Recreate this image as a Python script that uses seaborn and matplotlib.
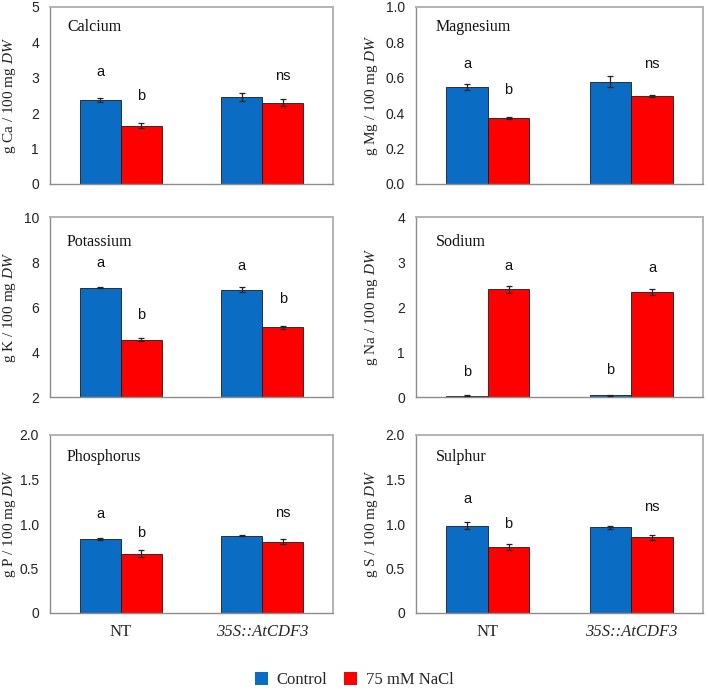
import numpy as np
import pandas as pd
import matplotlib
matplotlib.use("Agg")
import matplotlib.pyplot as plt
import seaborn as sns
from matplotlib.patches import Patch

# ---------------- data ----------------
genotypes = ["NT", "35S::AtCDF3"]
treatments = ["Control", "75 mM NaCl"]

ca_control = [2.37, 2.45]
ca_nacl = [1.65, 2.30]
ca_control_err = [0.05, 0.11]
ca_nacl_err = [0.08, 0.09]
ca_letters = ["a", "b", "", "ns"]          # NT-ctrl, NT-NaCl, 35S-ctrl, 35S-NaCl
ca_letter_y = [3.17, 2.49, 0, 3.05]
ca_ticks = [0, 1, 2, 3, 4, 5]
ca_ticklabels = ["0", "1", "2", "3", "4", "5"]

mg_control = [0.548, 0.578]
mg_nacl = [0.375, 0.499]
mg_control_err = [0.016, 0.03]
mg_nacl_err = [0.006, 0.005]
mg_letters = ["a", "b", "", "ns"]
mg_letter_y = [0.68, 0.53, 0, 0.68]
mg_ticks = [0.0, 0.2, 0.4, 0.6, 0.8, 1.0]
mg_ticklabels = ["0.0", "0.2", "0.4", "0.6", "0.8", "1.0"]

k_control = [6.86, 6.77]
k_nacl = [4.54, 5.09]
k_control_err = [0.03, 0.10]
k_nacl_err = [0.07, 0.08]
k_letters = ["a", "b", "a", "b"]
k_letter_y = [7.95, 5.64, 7.83, 6.34]
k_ticks = [2, 4, 6, 8, 10]
k_ticklabels = ["2", "4", "6", "8", "10"]

na_control = [0.03, 0.04]
na_nacl = [2.39, 2.34]
na_control_err = [0.005, 0.01]
na_nacl_err = [0.07, 0.07]
na_letters = ["b", "a", "b", "a"]
na_letter_y = [0.56, 2.91, 0.59, 2.86]
na_ticks = [0, 1, 2, 3, 4]
na_ticklabels = ["0", "1", "2", "3", "4"]

p_control = [0.828, 0.866]
p_nacl = [0.668, 0.80]
p_control_err = [0.01, 0.005]
p_nacl_err = [0.04, 0.03]
p_letters = ["a", "b", "", "ns"]
p_letter_y = [1.11, 0.90, 0, 1.12]
p_ticks = [0, 0.5, 1.0, 1.5, 2.0]
p_ticklabels = ["0", "0.5", "1.0", "1.5", "2.0"]

s_control = [0.98, 0.963]
s_nacl = [0.743, 0.851]
s_control_err = [0.04, 0.02]
s_nacl_err = [0.035, 0.03]
s_letters = ["a", "b", "", "ns"]
s_letter_y = [1.28, 1.00, 0, 1.19]
s_ticks = [0, 0.5, 1.0, 1.5, 2.0]
s_ticklabels = ["0", "0.5", "1.0", "1.5", "2.0"]

panels = [
    ("Calcium", "Ca", ca_control, ca_nacl, ca_control_err, ca_nacl_err, ca_letters, ca_letter_y, ca_ticks, ca_ticklabels),
    ("Magnesium", "Mg", mg_control, mg_nacl, mg_control_err, mg_nacl_err, mg_letters, mg_letter_y, mg_ticks, mg_ticklabels),
    ("Potassium", "K", k_control, k_nacl, k_control_err, k_nacl_err, k_letters, k_letter_y, k_ticks, k_ticklabels),
    ("Sodium", "Na", na_control, na_nacl, na_control_err, na_nacl_err, na_letters, na_letter_y, na_ticks, na_ticklabels),
    ("Phosphorus", "P", p_control, p_nacl, p_control_err, p_nacl_err, p_letters, p_letter_y, p_ticks, p_ticklabels),
    ("Sulphur", "S", s_control, s_nacl, s_control_err, s_nacl_err, s_letters, s_letter_y, s_ticks, s_ticklabels),
]

# ---------------- style ----------------
sns.set_style("white")
plt.rcParams["font.family"] = ["Liberation Sans", "DejaVu Sans"]
plt.rcParams["mathtext.fontset"] = "custom"
plt.rcParams["mathtext.rm"] = "Liberation Serif"
plt.rcParams["mathtext.it"] = "Liberation Serif:italic"

BLUE = "#0a6cc2"
RED = "#ff0000"
SERIF = ["Liberation Serif", "DejaVu Serif"]

W, H = 708, 690
fig = plt.figure(figsize=(W / 100, H / 100), dpi=100)

col_x = [(50, 333), (416, 703)]
row_y = [(7, 184), (217, 397), (435, 613)]
label_cx = [10, 372]

for i, (name, sym, ctrl, nacl, ctrl_err, nacl_err, letters, letter_y, ticks, ticklabels) in enumerate(panels):
    r, c = divmod(i, 2)
    x0, x1 = col_x[c]
    y0, y1 = row_y[r]
    ax = fig.add_axes([x0 / W, 1 - y1 / H, (x1 - x0) / W, (y1 - y0) / H])

    df = pd.DataFrame({
        "genotype": genotypes * 2,
        "treatment": [treatments[0]] * 2 + [treatments[1]] * 2,
        "value": list(ctrl) + list(nacl),
    })
    sns.barplot(data=df, x="genotype", y="value", hue="treatment",
                order=genotypes, hue_order=treatments,
                palette=[BLUE, RED], width=0.58, errorbar=None,
                edgecolor="#1a1a1a", linewidth=0.6, saturation=1,
                legend=False, ax=ax)

    errs = list(ctrl_err) + list(nacl_err)
    vals = list(ctrl) + list(nacl)
    bars = ax.patches[:4]
    xs = [b.get_x() + b.get_width() / 2 for b in bars]
    ax.errorbar(xs, vals, yerr=errs, fmt="none", ecolor="#222222",
                elinewidth=0.9, capsize=2.5, capthick=0.9, zorder=5)

    # letters: order of patches = ctrl NT, ctrl 35S, nacl NT, nacl 35S
    letter_x = [xs[0], xs[2], xs[1], xs[3]]
    for lx, lt, ly in zip(letter_x, letters, letter_y):
        if lt:
            ax.text(lx, ly, lt, ha="center", va="center", fontsize=10.5,
                    color="#111111", family=["Liberation Sans", "DejaVu Sans"])

    ax.set_xlim(-0.5, 1.5)
    ax.set_ylim(ticks[0], ticks[-1])
    ax.set_yticks(ticks)
    ax.set_yticklabels(ticklabels)
    ax.set_xticks([-0.5, 0.5, 1.5])
    ax.set_xticklabels([])
    ax.set_xticks([0, 1], minor=True)
    if r == 2:
        ax.set_xticklabels(["NT", "35S::AtCDF3"], minor=True)
        labs = ax.get_xticklabels(minor=True)
        for lab in labs:
            lab.set_family(SERIF)
            lab.set_fontsize(12)
        labs[1].set_style("italic")
    else:
        ax.set_xticklabels([], minor=True)
    ax.tick_params(axis="x", which="minor", length=0, pad=8)
    ax.tick_params(axis="x", which="major", length=4, width=0.8, color="#555555", direction="out")
    ax.tick_params(axis="y", length=4, width=0.8, color="#777777", direction="out",
                   labelsize=10, labelcolor="#222222", pad=4)
    ax.tick_params(axis="x", labelcolor="#222222")
    ax.set_xlabel("")
    ax.set_ylabel(f"g {sym} / 100 mg $\\mathit{{DW}}$", family=SERIF, fontsize=11,
                  color="#222222")
    ax.yaxis.set_label_coords((label_cx[c] - x0) / (x1 - x0), 0.5)
    ax.yaxis.label.set_verticalalignment("center")

    for side in ["top", "right"]:
        ax.spines[side].set_color("#b3b3b3")
        ax.spines[side].set_linewidth(1.4)
    for side in ["left", "bottom"]:
        ax.spines[side].set_color("#8c8c8c")
        ax.spines[side].set_linewidth(1.0)

    ax.text(0.06 if c == 0 else 0.07, 0.885 if r == 0 else (0.86 if r == 1 else 0.876),
            name, transform=ax.transAxes, ha="left", va="center",
            family=SERIF, fontsize=11.5, color="#111111")

handles = [Patch(facecolor=BLUE, edgecolor="none", label=treatments[0]),
           Patch(facecolor=RED, edgecolor="none", label=treatments[1])]
fig.legend(handles=handles, loc="center", bbox_to_anchor=(354 / W, 1 - 680 / H),
           ncol=2, frameon=False, prop={"family": SERIF, "size": 12},
           handlelength=0.8, handleheight=0.8, columnspacing=1.0, handletextpad=0.5)

fig.savefig("out.png", dpi=100)
